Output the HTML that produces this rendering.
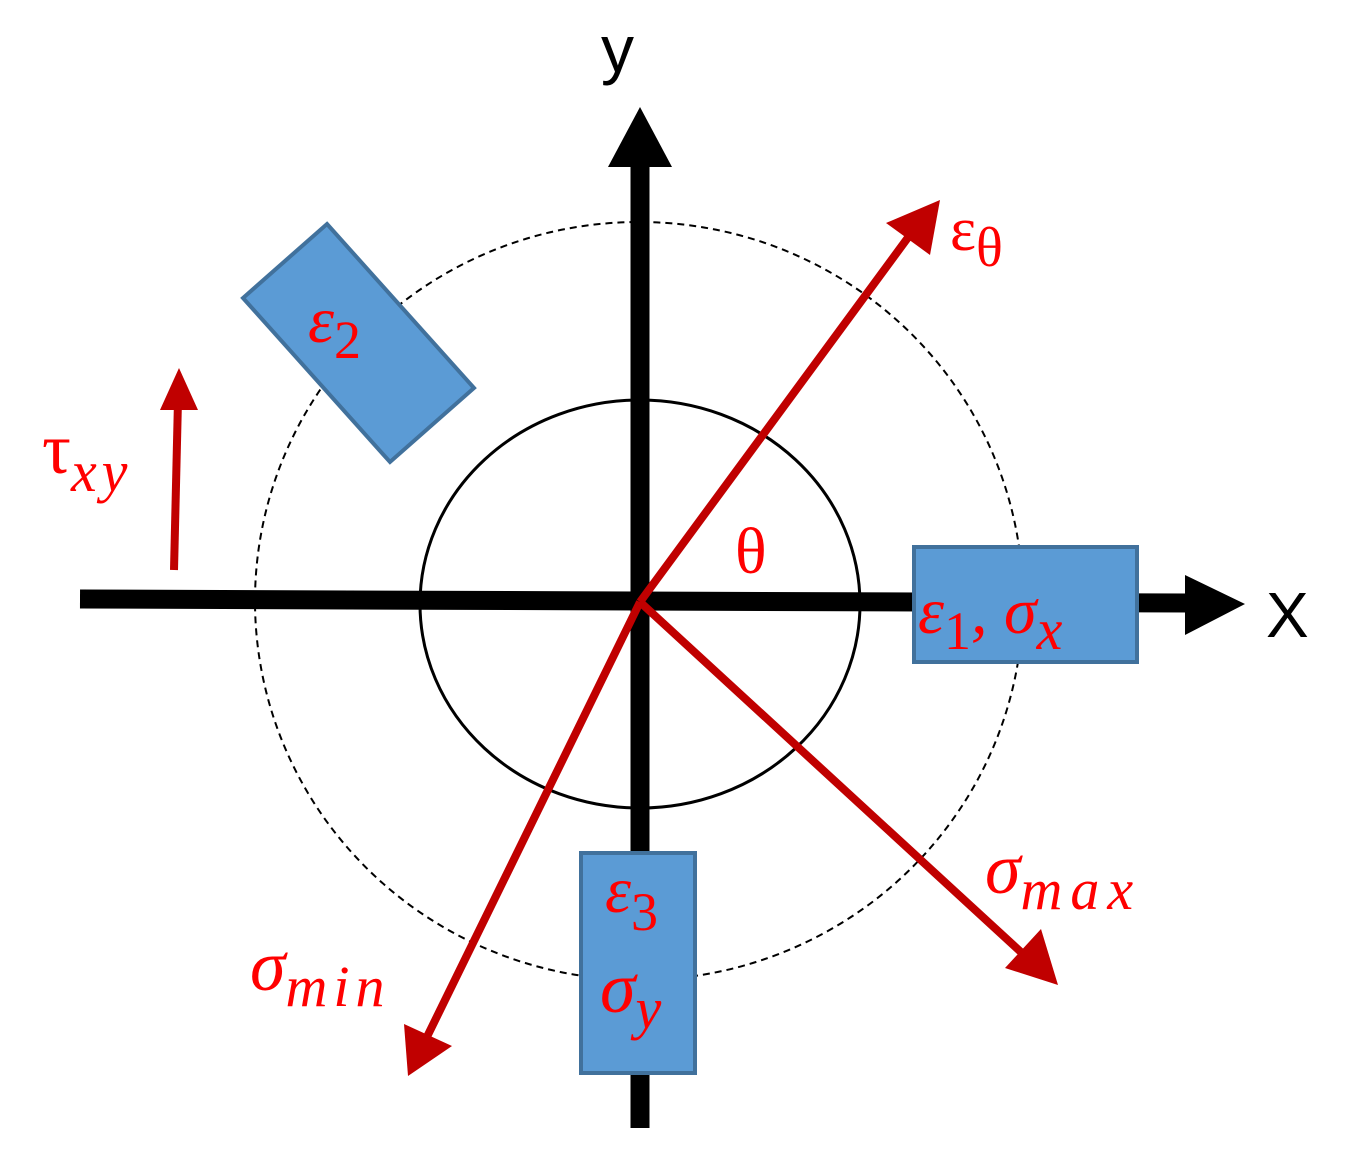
<!DOCTYPE html>
<html><head><meta charset="utf-8"><style>body{margin:0;background:#fff}svg{display:block}</style></head>
<body>
<svg width="1356" height="1168" viewBox="0 0 1356 1168" xmlns="http://www.w3.org/2000/svg">
<ellipse cx="639" cy="601" rx="384" ry="379" fill="none" stroke="#000" stroke-width="2" stroke-dasharray="7,5"/>
<ellipse cx="640" cy="604" rx="220" ry="204" fill="none" stroke="#000" stroke-width="3"/>
<line x1="80" y1="599" x2="1190" y2="603" stroke="#000" stroke-width="19"/>
<polygon points="1185,575 1245,604 1185,635" fill="#000"/>
<line x1="640" y1="160" x2="640" y2="1128" stroke="#000" stroke-width="19"/>
<polygon points="608,167 640,107 672,167" fill="#000"/>
<g stroke="#c00000" stroke-width="8" fill="none">
<line x1="640" y1="602" x2="915" y2="228"/>
<line x1="640" y1="602" x2="1035" y2="965"/>
<line x1="640" y1="602" x2="423" y2="1045"/>
<line x1="174" y1="570" x2="178" y2="400"/>
</g>
<g fill="#c00000">
<polygon points="940,200 930,255 886,223"/>
<polygon points="1058,985 1005,968 1041,929"/>
<polygon points="408,1076 404,1024 452,1046"/>
<polygon points="179,368 160,410 198,410"/>
</g>
<polygon points="327,224 474,388 390,462 243,298" fill="#5b9bd5" stroke="#41719c" stroke-width="4"/>
<rect x="914" y="547" width="223" height="115" fill="#5b9bd5" stroke="#41719c" stroke-width="4"/>
<rect x="581" y="853" width="114" height="220" fill="#5b9bd5" stroke="#41719c" stroke-width="4"/>
<g fill="#ff0000" font-family="'Liberation Serif', serif" font-style="italic">
<text x="308" y="342" font-size="66">ε<tspan font-size="54" dy="16" font-style="normal">2</tspan></text>
<text x="918" y="633" font-size="66">ε<tspan font-size="54" dy="16" font-style="normal">1</tspan><tspan dy="-16">, σ</tspan><tspan font-size="58" dy="16" letter-spacing="2">x</tspan></text>
<text x="605" y="912" font-size="66">ε<tspan font-size="54" dy="18" font-style="normal">3</tspan></text>
<text x="600" y="1012" font-size="72">σ<tspan font-size="58" dy="16">y</tspan></text>
<text x="950" y="250" font-size="62" font-style="normal">ε<tspan font-size="56" dy="16">θ</tspan></text>
<text x="985" y="893" font-size="72">σ<tspan font-size="58" dy="16" letter-spacing="8">max</tspan></text>
<text x="250" y="990" font-size="72">σ<tspan font-size="58" dy="16" letter-spacing="6">min</tspan></text>
<text x="42" y="473" font-size="72" font-style="normal">τ<tspan font-size="58" dy="18" font-style="italic" letter-spacing="5">xy</tspan></text>
<text x="735" y="573" font-size="66" font-style="normal">θ</text>
</g>
<g fill="#000" font-family="'Liberation Sans', sans-serif">
<text x="601" y="72" font-size="66">y</text>
<text x="1266" y="637" font-size="64">X</text>
</g>
</svg>
</body></html>
